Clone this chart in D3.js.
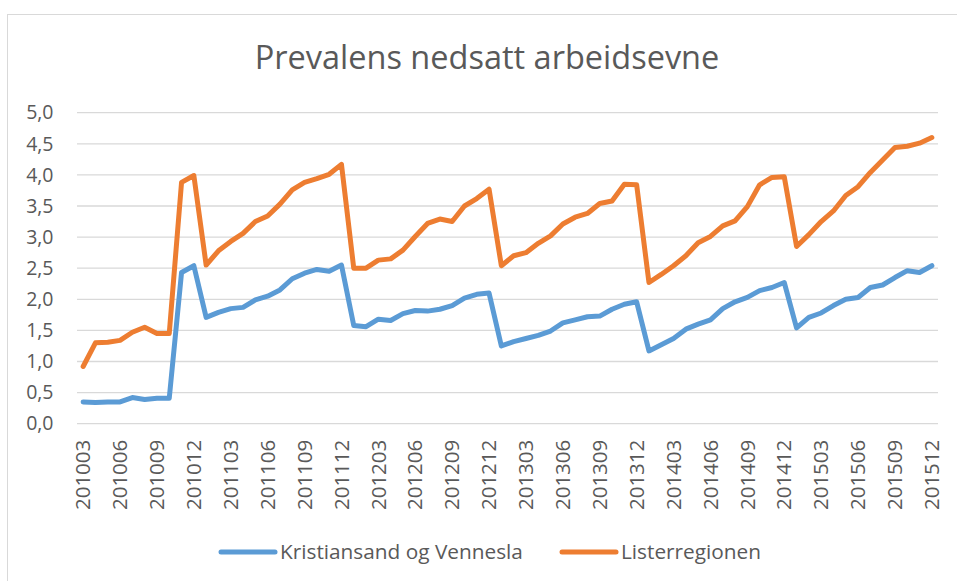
<!DOCTYPE html>
<html>
<meta charset="utf-8">
<head>
	<title>Prevalens nedsatt arbeidsevne</title>
	<script type="text/javascript" src="https://d3js.org/d3.v7.min.js"></script>
	<style>
		body { margin: 0; background: #fff; }
		text { font-family: "Open Sans", sans-serif; fill: #595959; }
	</style>
</head>
<body>
	<div class="chart-container"></div>

<script type="text/javascript">
var months = [
	"201003","201004","201005","201006","201007","201008","201009","201010","201011","201012",
	"201101","201102","201103","201104","201105","201106","201107","201108","201109","201110","201111","201112",
	"201201","201202","201203","201204","201205","201206","201207","201208","201209","201210","201211","201212",
	"201301","201302","201303","201304","201305","201306","201307","201308","201309","201310","201311","201312",
	"201401","201402","201403","201404","201405","201406","201407","201408","201409","201410","201411","201412",
	"201501","201502","201503","201504","201505","201506","201507","201508","201509","201510","201511","201512"
];

var kristiansand = [
	0.35,0.34,0.35,0.35,0.42,0.39,0.41,0.41,2.43,2.54,
	1.71,1.79,1.85,1.87,1.99,2.05,2.15,2.33,2.42,2.48,2.45,2.55,
	1.58,1.56,1.68,1.66,1.77,1.82,1.81,1.84,1.90,2.02,2.08,2.10,
	1.25,1.32,1.37,1.42,1.49,1.62,1.67,1.72,1.73,1.84,1.92,1.96,
	1.17,1.27,1.37,1.52,1.60,1.67,1.85,1.96,2.03,2.14,2.19,2.27,
	1.54,1.71,1.78,1.90,2.00,2.03,2.19,2.23,2.35,2.46,2.43,2.54
];

var lister = [
	0.92,1.30,1.31,1.34,1.47,1.55,1.45,1.45,3.88,3.99,
	2.55,2.78,2.93,3.06,3.25,3.34,3.53,3.76,3.88,3.94,4.01,4.17,
	2.50,2.50,2.63,2.65,2.79,3.01,3.22,3.29,3.25,3.50,3.62,3.77,
	2.54,2.70,2.75,2.90,3.02,3.21,3.32,3.38,3.54,3.58,3.85,3.84,
	2.27,2.40,2.54,2.70,2.91,3.01,3.18,3.26,3.49,3.84,3.96,3.97,
	2.85,3.04,3.25,3.42,3.67,3.81,4.04,4.24,4.44,4.46,4.51,4.60
];

var series = [
	{ name: "Kristiansand og Vennesla", values: kristiansand, color: "#5B9BD5" },
	{ name: "Listerregionen", values: lister, color: "#ED7D31" }
];

var yTicks = [0, 0.5, 1, 1.5, 2, 2.5, 3, 3.5, 4, 4.5, 5];

var width = 957, height = 581;

var svg = d3.select(".chart-container").append("svg")
	.attr("width", width)
	.attr("height", height);

// chart frame (only left and top edge visible)
svg.append("rect")
	.attr("x", 7.5).attr("y", 14.5)
	.attr("width", 1200).attr("height", 800)
	.attr("fill", "none")
	.attr("stroke", "#d9d9d9")
	.attr("stroke-width", 1);

svg.append("text")
	.attr("x", 487).attr("y", 69)
	.attr("text-anchor", "middle")
	.style("font-size", "32.5px")
	.text("Prevalens nedsatt arbeidsevne");

var x = d3.scaleBand()
	.domain(months)
	.range([77, 938]);

var y = d3.scaleLinear()
	.domain([0, 5])
	.range([423.7, 112.7]);

var fmt = function(d) { return d3.format(".1f")(d).replace(".", ","); };

// gridlines
svg.append("g")
	.attr("class", "grid")
	.selectAll("line")
	.data(yTicks)
	.enter().append("line")
	.attr("x1", 77).attr("x2", 938)
	.attr("y1", function(d) { return y(d); })
	.attr("y2", function(d) { return y(d); })
	.attr("stroke", "#d9d9d9")
	.attr("stroke-width", 1.3);

// y axis
var yAxis = svg.append("g")
	.attr("transform", "translate(77,0)")
	.call(d3.axisLeft(y).tickValues(yTicks).tickFormat(fmt).tickSize(0).tickPadding(23.5));
yAxis.select(".domain").remove();
yAxis.selectAll("text")
	.style("font-size", "19.5px")
	.style("font-family", "'Open Sans', sans-serif")
	.attr("fill", "#595959");

// x axis
var xAxis = svg.append("g")
	.attr("transform", "translate(0,423.7)")
	.call(d3.axisBottom(x)
		.tickValues(months.filter(function(d, i) { return i % 3 === 0; }))
		.tickSize(0));
xAxis.select(".domain").remove();
xAxis.selectAll("text")
	.style("font-size", "20.5px")
	.style("font-family", "'Open Sans', sans-serif")
	.attr("fill", "#595959")
	.attr("text-anchor", "end")
	.attr("transform", "rotate(-90)")
	.attr("x", -16)
	.attr("y", 0)
	.attr("dy", "0.35em");

var line = d3.line()
	.x(function(d, i) { return x(months[i]) + x.bandwidth() / 2; })
	.y(function(d) { return y(d); });

svg.append("g")
	.selectAll("path")
	.data(series)
	.enter().append("path")
	.attr("d", function(s) { return line(s.values); })
	.attr("fill", "none")
	.attr("stroke", function(s) { return s.color; })
	.attr("stroke-width", 5)
	.attr("stroke-linejoin", "round")
	.attr("stroke-linecap", "round");

// legend
var legendPos = [221, 562];
var legend = svg.append("g")
	.selectAll("g")
	.data(series)
	.enter().append("g")
	.attr("transform", function(s, i) { return "translate(" + legendPos[i] + ",552)"; });

legend.append("line")
	.attr("x1", 0).attr("x2", 54)
	.attr("stroke", function(s) { return s.color; })
	.attr("stroke-width", 5)
	.attr("stroke-linecap", "round");

legend.append("text")
	.attr("x", 59)
	.attr("dy", "0.35em")
	.style("font-size", "20.8px")
	.text(function(s) { return s.name; });
</script>
</body>
</html>
